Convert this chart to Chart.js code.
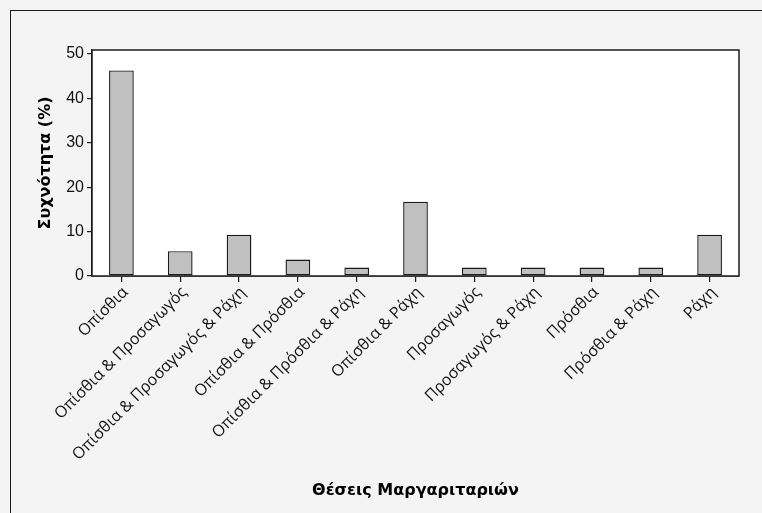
<!DOCTYPE html>
<html>
<head>
<meta charset="utf-8">
<script src="https://cdn.jsdelivr.net/npm/chart.js@4/dist/chart.umd.min.js"></script>
<style>
  html, body { margin: 0; padding: 0; background: #f4f4f4; }
  #wrap { position: relative; width: 762px; height: 513px; overflow: hidden; }
  #frame { position: absolute; left: 10px; top: 10px; right: -5px; bottom: -5px;
           border-left: 1px solid #1a1a1a; border-top: 1px solid #1a1a1a; }
  canvas { position: absolute; left: 0; top: 0; }
</style>
</head>
<body>
<div id="wrap">
  <div id="frame"></div>
  <canvas id="chart" width="762" height="513"></canvas>
</div>
<script>
// Pearl positions and their share of cases (%)
const categories = [
  'Οπίσθια',
  'Οπίσθια & Προσαγωγός',
  'Οπίσθια & Προσαγωγός & Ράχη',
  'Οπίσθια & Πρόσθια',
  'Οπίσθια & Πρόσθια & Ράχη',
  'Οπίσθια & Ράχη',
  'Προσαγωγός',
  'Προσαγωγός & Ράχη',
  'Πρόσθια',
  'Πρόσθια & Ράχη',
  'Ράχη'
];
const frequency = [46.3, 5.6, 9.3, 3.7, 1.9, 16.7, 1.9, 1.9, 1.9, 1.9, 9.3];
const yTicks = [0, 10, 20, 30, 40, 50];

const xTitle = 'Θέσεις Μαργαριταριών';
const yTitle = 'Συχνότητα (%)';

// White plot area with a closed dark box around it
const plotBox = {
  id: 'plotBox',
  beforeDatasetsDraw(chart) {
    const { ctx, chartArea: a } = chart;
    ctx.save();
    ctx.fillStyle = '#ffffff';
    ctx.fillRect(a.left, a.top, a.right - a.left, a.bottom - a.top);
    ctx.restore();
  },
  afterDraw(chart) {
    const { ctx, chartArea: a } = chart;
    ctx.save();
    ctx.strokeStyle = '#1a1a1a';
    ctx.lineWidth = 1.5;
    ctx.strokeRect(a.left, a.top, a.right - a.left, a.bottom - a.top);
    ctx.restore();
  }
};

new Chart(document.getElementById('chart'), {
  type: 'bar',
  data: {
    labels: categories,
    datasets: [{
      data: frequency,
      backgroundColor: '#c0c0c0',
      borderColor: '#1a1a1a',
      borderWidth: 1.4,
      borderSkipped: false,
      categoryPercentage: 1,
      barPercentage: 0.42
    }]
  },
  plugins: [plotBox],
  options: {
    responsive: false,
    animation: false,
    layout: { padding: { top: 50, right: 23, left: 0, bottom: 0 } },
    plugins: {
      legend: { display: false },
      tooltip: { enabled: false }
    },
    scales: {
      x: {
        grid: { display: true, drawOnChartArea: false, drawTicks: true, tickLength: 6,
                color: '#1a1a1a', lineWidth: 1.2, offset: false },
        border: { display: true, color: '#1a1a1a', width: 1.5 },
        ticks: {
          autoSkip: false, maxRotation: 45, minRotation: 45, padding: 1,
          labelOffset: 4,
          color: '#111',
          font: { family: '"Open Sans", "Liberation Sans", Arial, sans-serif', size: 16 }
        },
        title: {
          display: true, text: xTitle, color: '#000',
          font: { family: '"DejaVu Sans", Arial, sans-serif', size: 16, weight: 'bold' },
          padding: { top: 0, bottom: 13 }
        },
        afterFit(scale) { scale.height = 237; }
      },
      y: {
        min: 0, max: 50.9,
        afterBuildTicks(scale) { scale.ticks = yTicks.map(v => ({ value: v })); },
        grid: { display: true, drawOnChartArea: false, drawTicks: true, tickLength: 5,
                color: '#1a1a1a', lineWidth: 1.2 },
        border: { display: true, color: '#1a1a1a', width: 1.5 },
        ticks: {
          padding: 3, color: '#111',
          font: { family: '"Liberation Sans", Arial, sans-serif', size: 16 }
        },
        title: {
          display: true, text: yTitle, color: '#000',
          font: { family: '"DejaVu Sans", Arial, sans-serif', size: 16, weight: 'bold' },
          padding: { top: 36, bottom: 0 }
        },
        afterFit(scale) { scale.width = 92; }
      }
    }
  }
});
</script>
</body>
</html>
